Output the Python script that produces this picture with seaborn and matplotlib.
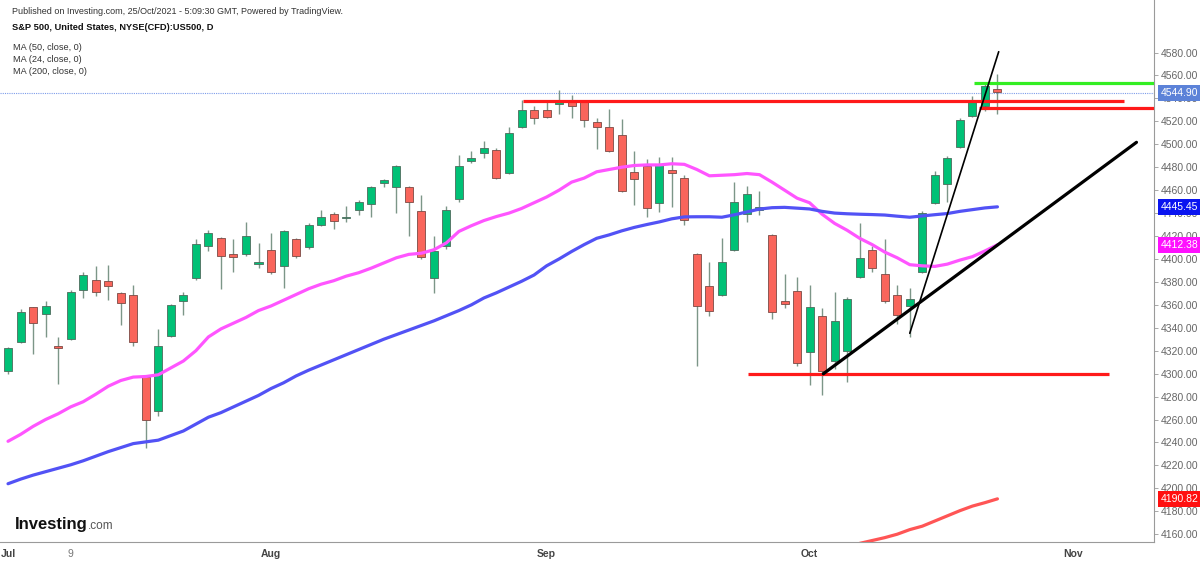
import numpy as np
import pandas as pd
import matplotlib
matplotlib.use("Agg")
import matplotlib.pyplot as plt
import matplotlib.transforms as mtransforms
import seaborn as sns

# ---------------- data (daily bars, 1 Jul -> 22 Oct 2021) ----------------
opens = [4302, 4328, 4358, 4352, 4324, 4330, 4373, 4382, 4381, 4370,
         4369, 4297, 4267, 4333, 4363, 4383, 4411, 4418, 4404, 4404,
         4396, 4408, 4394, 4417, 4410, 4430, 4439, 4436, 4443, 4448,
         4466, 4463, 4463, 4442, 4383, 4411, 4452, 4485, 4492, 4495,
         4475, 4515, 4530, 4530, 4535, 4537, 4537, 4519, 4515, 4508,
         4476, 4481, 4449, 4478, 4471, 4404, 4376, 4369, 4408, 4439,
         4443, 4421, 4363, 4372, 4319, 4350, 4311, 4320, 4384, 4408,
         4387, 4369, 4359, 4389, 4449, 4465, 4498, 4525, 4533, 4548]
highs = [4323, 4356, 4358, 4363, 4332, 4373, 4389, 4394, 4395, 4371,
         4377, 4298, 4339, 4361, 4371, 4417, 4425, 4419, 4417, 4432,
         4414, 4423, 4425, 4418, 4431, 4443, 4441, 4446, 4451, 4464,
         4470, 4482, 4464, 4456, 4420, 4446, 4491, 4494, 4503, 4497,
         4515, 4539, 4533, 4537, 4547, 4543, 4538, 4523, 4531, 4522,
         4494, 4487, 4489, 4489, 4473, 4405, 4397, 4418, 4467, 4464,
         4459, 4422, 4387, 4384, 4377, 4357, 4371, 4367, 4431, 4411,
         4417, 4377, 4375, 4442, 4477, 4490, 4523, 4542, 4554, 4561]
lows = [4300, 4327, 4317, 4332, 4291, 4329, 4366, 4368, 4364, 4342,
        4324, 4235, 4263, 4332, 4351, 4382, 4407, 4374, 4389, 4403,
        4392, 4387, 4375, 4401, 4409, 4429, 4426, 4432, 4438, 4437,
        4463, 4440, 4420, 4400, 4370, 4409, 4450, 4484, 4488, 4470,
        4474, 4514, 4518, 4523, 4526, 4523, 4515, 4496, 4493, 4458,
        4447, 4437, 4441, 4445, 4430, 4307, 4350, 4368, 4407, 4432,
        4438, 4348, 4357, 4307, 4290, 4281, 4304, 4293, 4383, 4389,
        4362, 4343, 4332, 4388, 4448, 4450, 4497, 4524, 4529, 4526]
closes = [4322, 4354, 4344, 4359, 4322, 4371, 4386, 4371, 4376, 4362,
          4328, 4260, 4324, 4360, 4369, 4413, 4423, 4403, 4402, 4420,
          4397, 4389, 4424, 4403, 4430, 4437, 4433, 4437, 4450, 4463,
          4469, 4481, 4450, 4402, 4407, 4443, 4481, 4488, 4497, 4471,
          4510, 4530, 4523, 4524, 4538, 4533, 4521, 4515, 4494, 4459,
          4470, 4444, 4482, 4475, 4434, 4359, 4355, 4397, 4450, 4457,
          4445, 4354, 4361, 4309, 4358, 4302, 4346, 4365, 4401, 4392,
          4363, 4351, 4365, 4440, 4473, 4488, 4521, 4537, 4551, 4545.9]

ma24 = [4241, 4247, 4254, 4260, 4265, 4271, 4275.5, 4282, 4289, 4294,
        4297, 4297.5, 4299, 4305, 4311, 4320, 4332, 4339, 4344, 4349,
        4355, 4359, 4364, 4369, 4374, 4378, 4381, 4385, 4388, 4392,
        4396.5, 4401, 4404, 4405, 4408, 4414, 4424, 4429, 4433.5, 4437,
        4440, 4444, 4449, 4454, 4460, 4467, 4470.5, 4476, 4478, 4480,
        4481.5, 4482, 4482, 4483, 4482.5, 4478, 4472.5, 4473, 4473.5, 4474.5,
        4473.5, 4467, 4460, 4453, 4449, 4439, 4431, 4425, 4418, 4412.5,
        4406, 4401, 4395, 4394, 4393.5, 4395.5, 4399, 4402, 4407, 4412.38]
ma50 = [4204, 4208, 4211.5, 4214.5, 4217.5, 4220.5, 4224, 4228, 4232, 4235.5,
        4239, 4240.5, 4242, 4246, 4250, 4256, 4262, 4266, 4271, 4276,
        4281, 4287, 4292, 4298, 4303, 4307.5, 4312, 4316.5, 4321, 4325.5,
        4330, 4334, 4338, 4342, 4346, 4350.5, 4355, 4360, 4366, 4370.5,
        4375.5, 4380.5, 4386, 4394, 4400, 4406.5, 4412.5, 4418, 4421, 4424.5,
        4427.5, 4430, 4432.3, 4435, 4436.7, 4436.8, 4436.8, 4436.4, 4438.5, 4441,
        4443.5, 4444.7, 4445, 4444.3, 4443.6, 4441.5, 4440, 4439.4, 4439, 4438.7,
        4438.3, 4437.3, 4436.4, 4437.5, 4438.6, 4439.6, 4441.5, 4443, 4444.5, 4445.45]
ma200_tail = [4152, 4154.5, 4157, 4160, 4164, 4167, 4171.5, 4176, 4180.5, 4184.5,
              4187.5, 4190.82]

# x-axis: weekly ticks (bar index) and their labels
tick_pos = [0, 5, 10, 15, 21, 26, 31, 36, 43, 48, 53, 58, 64, 69, 74, 79, 85, 90]
tick_lab = ["Jul", "9", "", "", "Aug", "", "", "", "Sep", "", "", "", "Oct", "", "", "", "Nov", ""]

# drawn lines (bar index, price)
resist_x, resist_y = [41.1, 89.1], [4538, 4538]
resist2_x, resist2_y = [77.5, 91.5], [4531.4, 4531.4]
green_x, green_y = [77.1, 91.5], [4553, 4553]
support_x, support_y = [59.1, 87.9], [4299.4, 4299.4]
trend_x, trend_y = [65.1, 90.1], [4299.9, 4501.7]
steep_x, steep_y = [72.0, 79.1], [4335.2, 4580.7]

last_price = 4544.90

# ---------------- figure ----------------
sns.set_style("white")
plt.rcParams['font.family'] = ['Liberation Sans', 'DejaVu Sans']

fig = plt.figure(figsize=(12, 5.61), dpi=100)
ax = fig.add_axes([0, 19 / 561, 1154 / 1200, 542 / 561])

n = len(closes)
df = pd.DataFrame({"i": np.arange(n), "open": opens, "high": highs,
                   "low": lows, "close": closes, "ma24": ma24, "ma50": ma50})
df["ma200"] = np.nan
df.loc[n - len(ma200_tail):, "ma200"] = ma200_tail

up = df["close"] >= df["open"]
wick_col = "#7c9688"
ax.vlines(df["i"], df["low"], df["high"], color=wick_col, lw=1.0, zorder=2)
body_lo = df[["open", "close"]].min(axis=1)
body_h = (df["close"] - df["open"]).abs().clip(lower=0.8)
ax.bar(df["i"][up], body_h[up], bottom=body_lo[up], width=0.64,
       color="#00c176", edgecolor="#4d6a5c", linewidth=0.6, zorder=3)
ax.bar(df["i"][~up], body_h[~up], bottom=body_lo[~up], width=0.64,
       color="#f9655b", edgecolor="#7a4a45", linewidth=0.6, zorder=3)

# moving averages
sns.lineplot(data=df, x="i", y="ma24", color="#ff55ff", lw=2.3, ax=ax, zorder=4)
sns.lineplot(data=df, x="i", y="ma50", color="#5252f5", lw=2.3, ax=ax, zorder=4)
sns.lineplot(data=df, x="i", y="ma200", color="#ff5555", lw=2.3, ax=ax, zorder=4)

# drawings
ax.axhline(last_price, color="#7d9cea", lw=0.8, ls=(0, (1, 1)), zorder=1)
ax.plot(resist_x, resist_y, color="#ff1a1a", lw=2.3, zorder=5, solid_capstyle="butt")
ax.plot(resist2_x, resist2_y, color="#ff1a1a", lw=2.3, zorder=5, solid_capstyle="butt")
ax.plot(green_x, green_y, color="#33ee22", lw=2.3, zorder=5, solid_capstyle="butt")
ax.plot(support_x, support_y, color="#ff1a1a", lw=2.3, zorder=5, solid_capstyle="butt")
ax.plot(trend_x, trend_y, color="black", lw=2.3, zorder=5)
ax.plot(steep_x, steep_y, color="black", lw=1.2, zorder=5)

ax.set_xlim(-0.64, 91.5)
ax.set_ylim(4153.2, 4625.8)
ax.set_xlabel("")
ax.set_ylabel("")

# axes styling
for s in ["top", "left"]:
    ax.spines[s].set_visible(False)
ax.spines["right"].set_color("#9a9a9a")
ax.spines["bottom"].set_color("#9a9a9a")
ax.spines["right"].set_linewidth(0.8)
ax.spines["bottom"].set_linewidth(0.8)

yt = np.arange(4160, 4581, 20)
ax.yaxis.tick_right()
ax.set_yticks(yt)
ax.set_yticklabels([f"{v:.2f}" for v in yt])
ax.tick_params(axis="y", direction="out", length=3, width=0.6, color="#9a9a9a",
               labelsize=7.5, labelcolor="#666666", pad=2)
ax.set_xticks(tick_pos)
ax.set_xticklabels(tick_lab)
ax.tick_params(axis="x", direction="out", length=3, width=0.6, color="#9a9a9a",
               labelsize=7.5, labelcolor="#444444", pad=2)
for t in ax.get_xticklabels():
    if t.get_text() != "9":
        t.set_fontweight("bold")
    else:
        t.set_color("#777777")

# value boxes on the price scale
trans = mtransforms.blended_transform_factory(ax.transAxes, ax.transData)
boxes = [(last_price, "4544.90", "#5c82d8"), (ma50[-1], "4445.45", "#0a14f0"),
         (ma24[-1], "4412.38", "#ff10ff"), (ma200_tail[-1], "4190.82", "#ff1010")]
for val, lab, col in boxes:
    ax.text(1.006, val, lab, transform=trans, ha="left", va="center", fontsize=7.5,
            color="white", zorder=10, clip_on=False,
            bbox=dict(boxstyle="square,pad=0.28", fc=col, ec=col, lw=0))

# header
fig.text(12 / 1200, 1 - 12 / 561, "Published on Investing.com, 25/Oct/2021 - 5:09:30 GMT, Powered by TradingView.",
         fontsize=6.5, color="#333333", va="center")
fig.text(12 / 1200, 1 - 28 / 561, "S&P 500, United States, NYSE(CFD):US500, D",
         fontsize=6.7, color="#111111", fontweight="bold", va="center")
for k, txt in enumerate(["MA (50, close, 0)", "MA (24, close, 0)", "MA (200, close, 0)"]):
    fig.text(13 / 1200, 1 - (47 + 12 * k) / 561, txt, fontsize=6.6, color="#333333", va="center")

# logo
fig.text(15 / 1200, 1 - 524 / 561, "Investing", fontsize=12, fontweight="bold",
         color="#111111", va="center")
fig.text(88 / 1200, 1 - 526 / 561, ".com", fontsize=8.5, color="#555555", va="center")

fig.savefig("out.png", dpi=100)
